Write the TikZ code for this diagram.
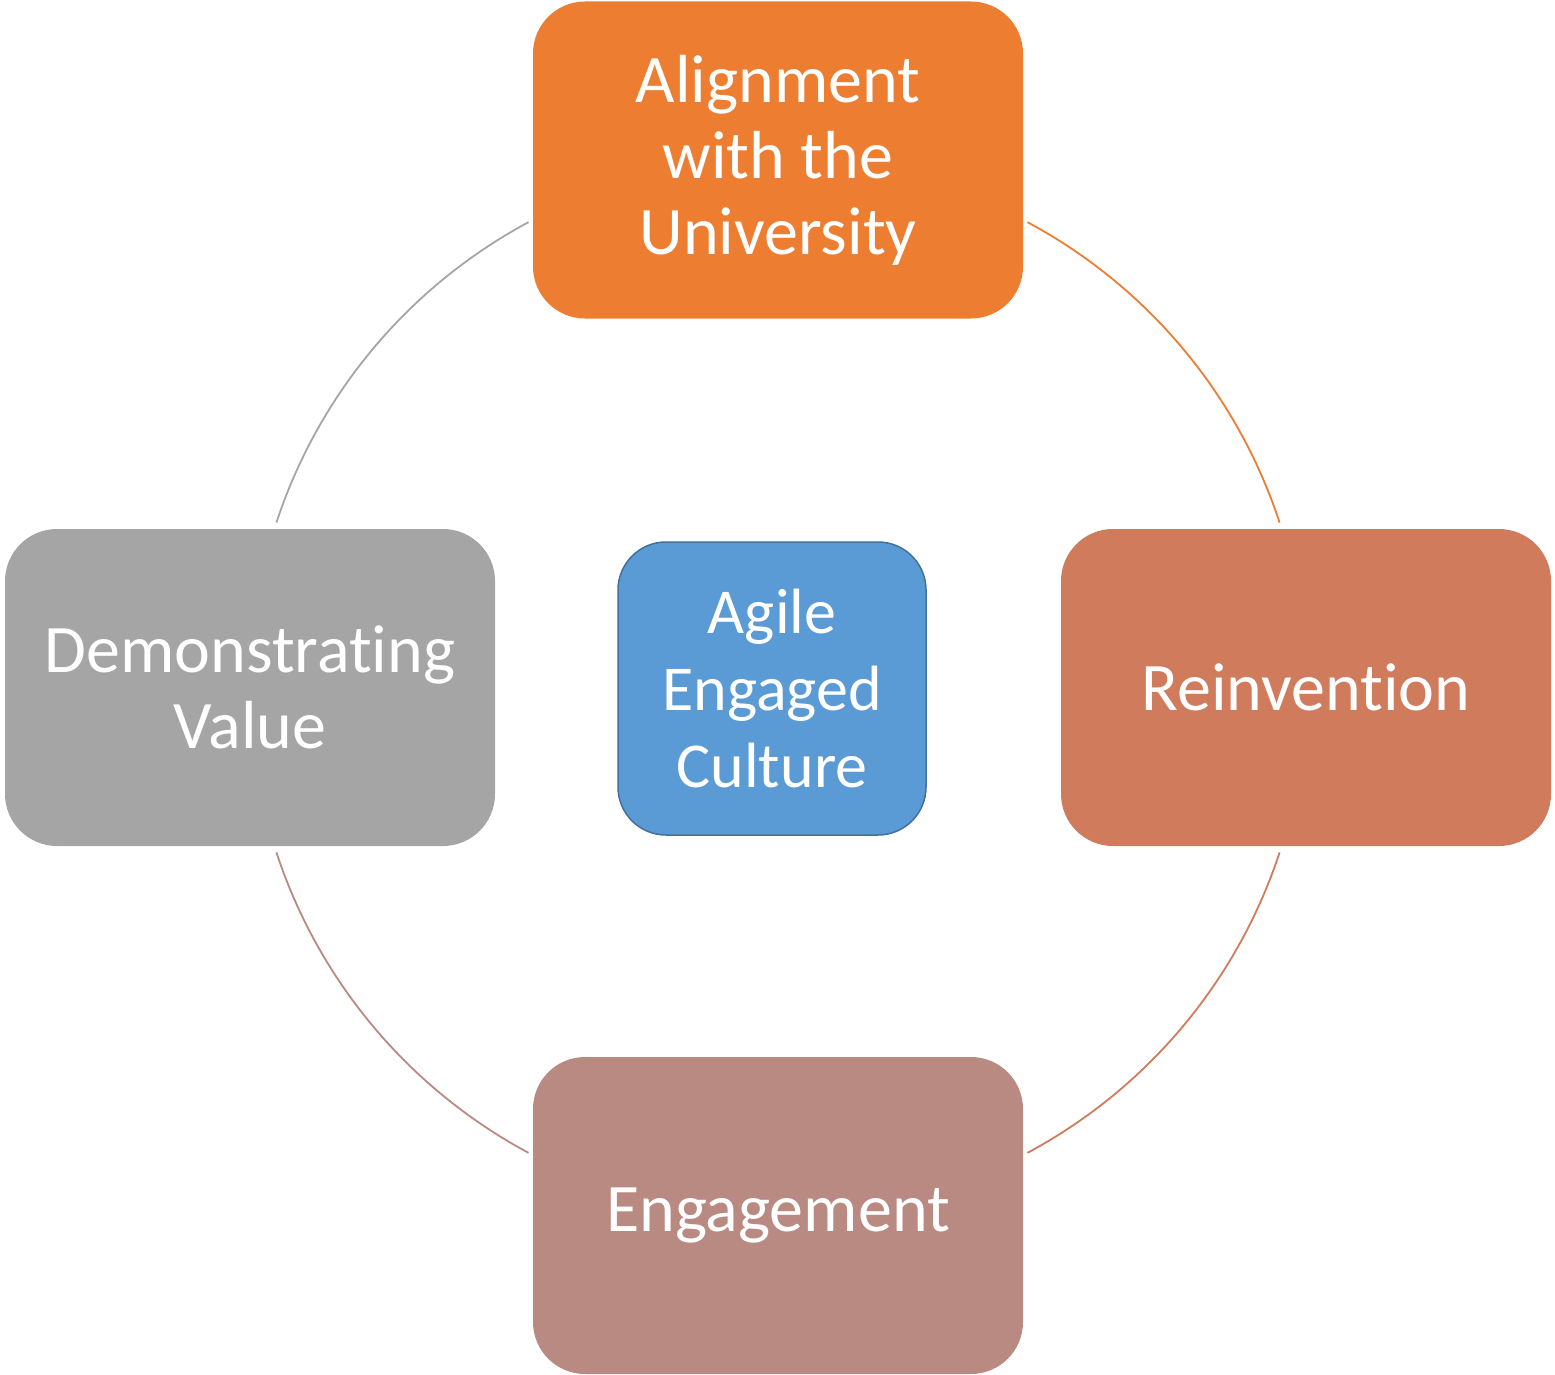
\documentclass[tikz,border=0pt]{standalone}
\usepackage{fontspec}
\setmainfont[Ligatures={NoCommon}]{Carlito}
\definecolor{cOrange}{HTML}{ED7D31}
\definecolor{cRein}{HTML}{D17B5D}
\definecolor{cEng}{HTML}{B98A82}
\definecolor{cGray}{HTML}{A5A5A5}
\definecolor{cBlue}{HTML}{5B9BD5}
\definecolor{cBlueB}{HTML}{41719C}
\begin{document}
\begin{tikzpicture}[x=1pt,y=-1pt,
  bigbox/.style={rounded corners=52pt, minimum width=490pt, minimum height=317pt,
    text=white, align=center, inner sep=0pt, font=\fontsize{68}{76}\selectfont},
  cbox/.style={rounded corners=48pt, minimum width=308pt, minimum height=293pt,
    fill=cBlue, draw=cBlueB, line width=1.5pt, text=white, align=center, inner sep=0pt,
    font=\fontsize{64}{77}\selectfont},
  ring/.style={line width=1.8pt}]
\useasboundingbox (0,0) rectangle (1555,1375);
\coordinate (c) at (778,687.5);
% arcs
\draw[ring, cGray]   ([shift={(118.2:528pt)}]c) arc[start angle=118.2, end angle=161.8, radius=528pt];
\draw[ring, cOrange] ([shift={(61.8:528pt)}]c) arc[start angle=61.8, end angle=18.2, radius=528pt];
\draw[ring, cRein]   ([shift={(-18.2:528pt)}]c) arc[start angle=-18.2, end angle=-61.8, radius=528pt];
\draw[ring, cEng]    ([shift={(-118.2:528pt)}]c) arc[start angle=-118.2, end angle=-161.8, radius=528pt];
% boxes
\node[bigbox, fill=cOrange] (align) at (778,160) {Alignment\\with the\\University};
\node[bigbox, fill=cRein] (rein) at (1306,687.5) {Reinvention};
\node[bigbox, fill=cEng] (eng) at (778,1215.5) {Engagement};
\node[bigbox, fill=cGray] (demo) at (250,687.5) {Demonstrating\\Value};
\node[cbox] (agile) at (772,688.5) {Agile\\Engaged\\Culture};
\end{tikzpicture}
\end{document}
